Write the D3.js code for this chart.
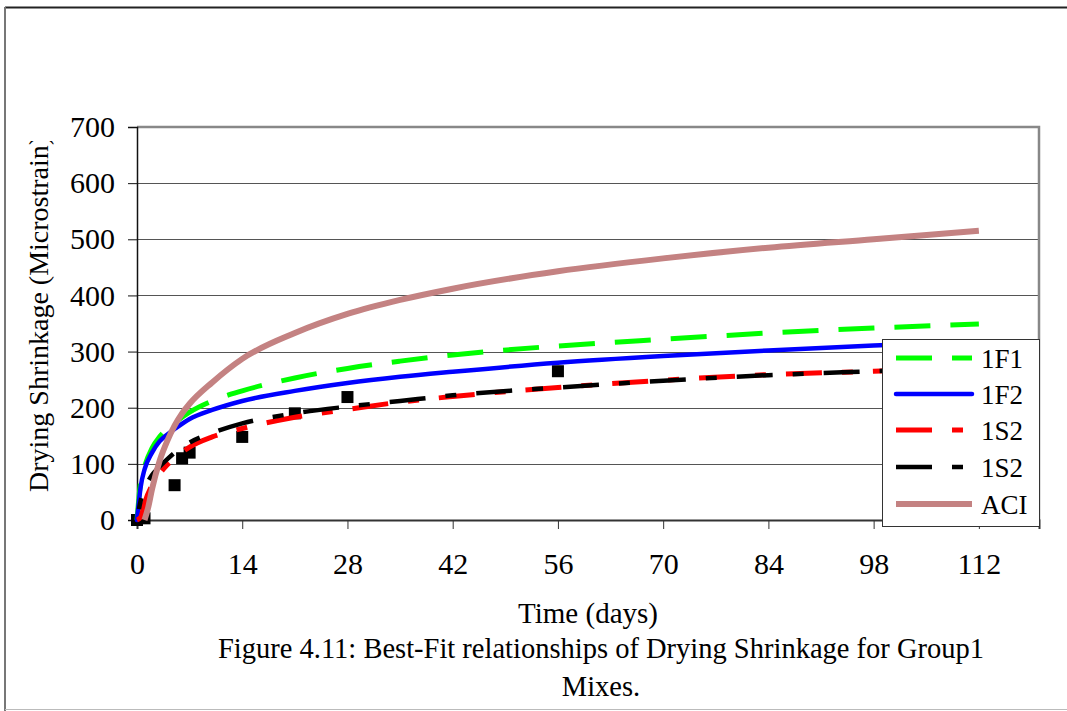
<!DOCTYPE html>
<html>
<head>
<meta charset="utf-8">
<script src="https://cdn.jsdelivr.net/npm/d3@7/dist/d3.min.js"></script>
<style>
  html, body { margin: 0; padding: 0; background: #fff; }
  svg { display: block; font-family: "Liberation Serif", "Times New Roman", serif; }
</style>
</head>
<body>
<svg id="chart" width="1067" height="711"></svg>
<script>
// Fitted curves sampled at these ages (days)
const fitDays = [0, 0.5, 1, 2, 3, 4, 5, 7, 10, 14, 21, 28, 35, 42, 56, 70, 84, 98, 112];
const fit1F1 = [0, 70, 95, 128, 148, 162, 173, 192, 212, 230, 253, 270, 283, 294, 310, 322, 333, 342, 349];
const fit1F2 = [0, 60, 90, 120, 140, 152, 162, 180, 196, 212, 230, 244, 255, 264, 280, 292, 302, 311, 318];
const fit1S2a = [0, 5, 30, 62, 82, 98, 110, 130, 148, 163, 183, 197, 210, 220, 236, 249, 259, 265, 272];
const fit1S2b = [0, 35, 55, 80, 95, 108, 120, 138, 155, 172, 190, 202, 212, 222, 236, 248, 258, 265, 272];

// ACI 209 prediction
const aciDays = [1, 1.5, 2, 3, 4, 5, 6, 7, 10, 14, 21, 28, 35, 42, 56, 70, 84, 98, 112];
const aciVals = [0, 23, 55, 105, 140, 168, 190, 207, 245, 287, 333, 367, 392, 412, 443, 466, 485, 500, 515];

// Measured shrinkage
const obsDays = [0, 1, 5, 6, 7, 14, 21, 28, 56];
const obsVals = [0, 3, 62, 110, 120, 148, 190, 219, 265];

const xTicks = [0, 14, 28, 42, 56, 70, 84, 98, 112];
const yTicks = [0, 100, 200, 300, 400, 500, 600, 700];

const seriesNames = ["1F1", "1F2", "1S2", "1S2", "ACI"];

const svg = d3.select("#chart");
const W = 1067, H = 711;
const plot = { left: 137, right: 1039, top: 127, bottom: 520 };

const x = d3.scaleLinear().domain([0, 120]).range([plot.left, plot.right]);
const y = d3.scaleLinear().domain([0, 700]).range([plot.bottom, plot.top]);

// outer frame
svg.append("line").attr("x1", 5).attr("x2", W).attr("y1", 7.5).attr("y2", 7.5)
  .attr("stroke", "#222").attr("stroke-width", 2);
svg.append("line").attr("x1", 5).attr("x2", 5).attr("y1", 7).attr("y2", H)
  .attr("stroke", "#777").attr("stroke-width", 2);
svg.append("line").attr("x1", 5).attr("x2", W).attr("y1", 709.5).attr("y2", 709.5)
  .attr("stroke", "#bbb").attr("stroke-width", 1);

// gridlines
svg.append("g").selectAll("line").data(yTicks.filter(d => d > 0 && d < 700)).join("line")
  .attr("x1", plot.left).attr("x2", plot.right)
  .attr("y1", d => Math.round(y(d)) + 0.5).attr("y2", d => Math.round(y(d)) + 0.5)
  .attr("stroke", "#555").attr("stroke-width", 1);

// plot border (top and right)
svg.append("path")
  .attr("d", `M${plot.left},${plot.top} H${plot.right} V${plot.bottom}`)
  .attr("fill", "none").attr("stroke", "#888").attr("stroke-width", 2.5);

// axes
const yAxis = d3.axisLeft(y).tickValues(yTicks).tickSize(9).tickPadding(13);
const gy = svg.append("g").attr("transform", `translate(${plot.left},0)`).call(yAxis);
gy.select(".domain").attr("stroke", "#111").attr("stroke-width", 1.5);
gy.selectAll(".tick line").attr("stroke", "#111");
gy.selectAll("text").attr("font-family", "Liberation Serif").attr("font-size", 30).attr("fill", "#000");

const xAxis = d3.axisBottom(x).tickValues(xTicks).tickSize(9).tickPadding(24);
const gx = svg.append("g").attr("transform", `translate(0,${plot.bottom})`).call(xAxis);
gx.select(".domain").attr("stroke", "#333").attr("stroke-width", 2);
gx.selectAll(".tick line").attr("stroke", "#333");
gx.selectAll("text").attr("font-family", "Liberation Serif").attr("font-size", 30).attr("fill", "#000");

// measured points
svg.append("g").selectAll("rect").data(obsDays.map((d, i) => [d, obsVals[i]])).join("rect")
  .attr("x", d => x(d[0]) - 6).attr("y", d => y(d[1]) - 6)
  .attr("width", 12).attr("height", 12).attr("fill", "#000");

const line = d3.line().x(d => x(d[0])).y(d => y(d[1])).curve(d3.curveMonotoneX);
const styles = [
  { vals: fit1F1, days: fitDays, color: "#00ff00", width: 5, dash: "36,20", cap: "butt" },
  { vals: fit1F2, days: fitDays, color: "#0000ff", width: 4.5, dash: null, cap: "round" },
  { vals: fit1S2a, days: fitDays, color: "#ff0000", width: 5, dash: "36,20,11,20", cap: "butt", offset: 0 },
  { vals: fit1S2b, days: fitDays, color: "#000000", width: 4.5, dash: "36,20,11,20", cap: "butt", offset: 45 },
  { vals: aciVals, days: aciDays, color: "#c48282", width: 6, dash: null, cap: "butt" }
];

styles.forEach(s => {
  svg.append("path")
    .attr("d", line(s.days.map((d, i) => [d, s.vals[i]])))
    .attr("fill", "none").attr("stroke", s.color).attr("stroke-width", s.width)
    .attr("stroke-linecap", s.cap)
    .attr("stroke-dasharray", s.dash)
    .attr("stroke-dashoffset", s.offset || 0);
});

// legend
const lg = svg.append("g");
lg.append("rect").attr("x", 882.5).attr("y", 339.5).attr("width", 157).attr("height", 187)
  .attr("fill", "#fff").attr("stroke", "#333").attr("stroke-width", 1);
const legY = [358, 394, 430, 467, 504];
styles.forEach((s, i) => {
  lg.append("line").attr("x1", 896).attr("x2", 972).attr("y1", legY[i]).attr("y2", legY[i])
    .attr("stroke", s.color).attr("stroke-width", s.width)
    .attr("stroke-linecap", s.cap).attr("stroke-dasharray", s.dash);
  lg.append("text").attr("x", 981).attr("y", legY[i] + 10)
    .attr("font-size", 27).attr("fill", "#000").text(seriesNames[i]);
});

// axis titles (the title runs past the chart area and is cut at the top)
svg.append("clipPath").attr("id", "ytclip")
  .append("rect").attr("x", 0).attr("y", 141).attr("width", 120).attr("height", 560);
svg.append("g").attr("clip-path", "url(#ytclip)")
  .append("text")
  .attr("transform", "translate(48,492) rotate(-90)")
  .attr("text-anchor", "start").attr("font-size", 28).attr("fill", "#000")
  .text("Drying Shrinkage (Microstrain)");

svg.append("text").attr("x", 588).attr("y", 623).attr("text-anchor", "middle")
  .attr("font-size", 29).attr("fill", "#000").text("Time (days)");

svg.append("text").attr("x", 601).attr("y", 658).attr("text-anchor", "middle")
  .attr("font-size", 28.5).attr("fill", "#000")
  .text("Figure 4.11: Best-Fit relationships of Drying Shrinkage for Group1");
svg.append("text").attr("x", 601).attr("y", 696).attr("text-anchor", "middle")
  .attr("font-size", 28.5).attr("fill", "#000").text("Mixes.");
</script>
</body>
</html>
